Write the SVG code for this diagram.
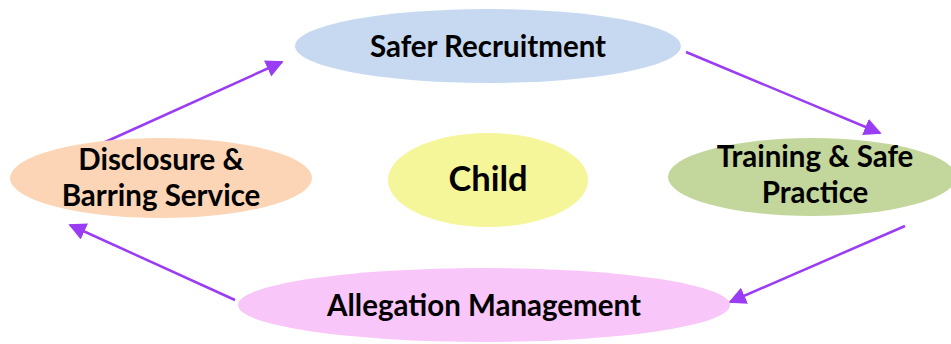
<svg xmlns="http://www.w3.org/2000/svg" width="951" height="344" viewBox="0 0 951 344">
<style>
.lbl{font-family:Lato,"Open Sans","Liberation Sans",sans-serif;font-weight:bold;fill:#000;text-anchor:middle}
.t26{font-size:29.5px}
.t30{font-size:34.5px}
.conn{stroke:#9B3CF5;stroke-width:2.5;fill:none;marker-end:url(#ah)}
</style>
<defs>
<marker id="ah" viewBox="0 0 10 10" refX="9" refY="5" markerWidth="7" markerHeight="7" markerUnits="strokeWidth" orient="auto">
<path d="M0,0 L10,5 L0,10 Z" fill="#9B3CF5"/>
</marker>
</defs>
<rect width="951" height="344" fill="#fff"/>
<g id="connectors">
<line class="conn" x1="103" y1="143" x2="282" y2="62"/>
<line class="conn" x1="686" y1="52" x2="880" y2="133"/>
<line class="conn" x1="905" y1="226" x2="730" y2="302"/>
<line class="conn" x1="235" y1="300" x2="70" y2="225"/>
</g>
<g id="safer-recruitment">
<ellipse cx="488" cy="46" rx="193" ry="37" fill="#C6D9F1"/>
<text class="lbl t26" x="488" y="57">Safer Recruitment</text>
</g>
<g id="disclosure">
<ellipse cx="161" cy="178" rx="151" ry="40" fill="#FBD5B5"/>
<text class="lbl t26" x="161" y="170">Disclosure &amp;</text>
<text class="lbl t26" x="161" y="206">Barring Service</text>
</g>
<g id="child">
<ellipse cx="488" cy="180" rx="100" ry="47" fill="#F5F59A"/>
<text class="lbl t30" x="488" y="191">Child</text>
</g>
<g id="training">
<ellipse cx="812" cy="177" rx="144" ry="39" fill="#C3D69B"/>
<text class="lbl t26" x="815" y="167">Training &amp; Safe</text>
<text class="lbl t26" x="815" y="203">Practice</text>
</g>
<g id="allegation">
<ellipse cx="484" cy="305" rx="246" ry="37" fill="#F9C6F9"/>
<text class="lbl t26" x="484" y="316">Allegation Management</text>
</g>
</svg>
